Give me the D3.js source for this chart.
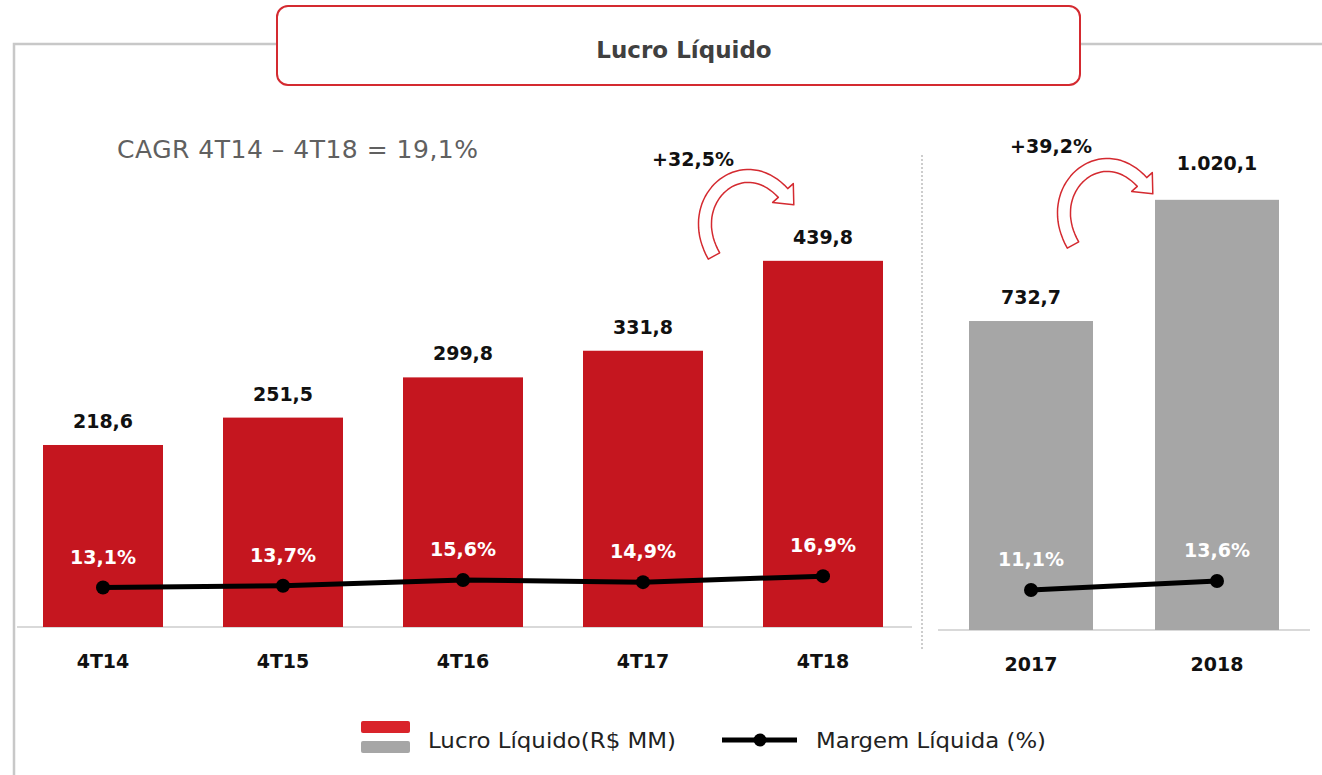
<!DOCTYPE html>
<html>
<head>
<meta charset="utf-8">
<script src="https://cdn.jsdelivr.net/npm/d3@7"></script>
<style>
  body { margin: 0; background: #fff; }
  text { font-family: "DejaVu Sans", sans-serif; }
</style>
</head>
<body>
<script>
// quarterly data
const quarters = ["4T14", "4T15", "4T16", "4T17", "4T18"];
const quarterProfit = [218.6, 251.5, 299.8, 331.8, 439.8];
const quarterMargin = [13.1, 13.7, 15.6, 14.9, 16.9];

// yearly data
const years = ["2017", "2018"];
const yearProfit = [732.7, 1020.1];
const yearMargin = [11.1, 13.6];

const growthLabels = ["+32,5%", "+39,2%"];
const cagrText = "CAGR 4T14 \u2013 4T18 = 19,1%";

const fmt = v => {
  const s = v.toFixed(1).split(".");
  return s[0].replace(/\B(?=(\d{3})+(?!\d))/g, ".") + "," + s[1];
};
const fmtPct = v => v.toFixed(1).replace(".", ",") + "%";

const W = 1322, H = 775;
const red = "#c5161f", grey = "#a6a6a6", frame = "#c8c8c8";

const svg = d3.select("body").append("svg")
  .attr("width", W).attr("height", H);

// frame
svg.append("path")
  .attr("d", "M14,775 L14,44 L277,44 M1080,44 L1322,44")
  .attr("fill", "none").attr("stroke", frame).attr("stroke-width", 2.5);

// title box
svg.append("rect")
  .attr("x", 277).attr("y", 6).attr("width", 803).attr("height", 79)
  .attr("rx", 11)
  .attr("fill", "#fff").attr("stroke", "#d42a30").attr("stroke-width", 2);
svg.append("text")
  .attr("x", 684).attr("y", 58)
  .attr("text-anchor", "middle")
  .attr("font-size", 23).attr("font-weight", "bold")
  .attr("fill", "#404040")
  .text("Lucro Líquido");

svg.append("text")
  .attr("x", 117).attr("y", 158)
  .attr("font-size", 25).attr("fill", "#606060")
  .attr("textLength", 361)
  .text(cagrText);

// separator
svg.append("line")
  .attr("x1", 922).attr("x2", 922).attr("y1", 155).attr("y2", 650)
  .attr("stroke", "#bdbdbd").attr("stroke-width", 1.5)
  .attr("stroke-dasharray", "2,2");

function panel(cfg) {
  const g = svg.append("g");
  const x = d3.scaleBand().domain(cfg.cats).range(cfg.xr)
    .paddingInner(1 / 3).paddingOuter(1 / 6);
  const y = d3.scaleLinear().domain(cfg.yd).range([cfg.base, cfg.ytop]);
  const ym = d3.scaleLinear().domain([0, 20]).range([cfg.base, cfg.mtop]);

  g.append("line")
    .attr("x1", cfg.axis[0]).attr("x2", cfg.axis[1])
    .attr("y1", cfg.base).attr("y2", cfg.base)
    .attr("stroke", "#d9d9d9").attr("stroke-width", 2);

  const data = cfg.cats.map((c, i) => ({ c, v: cfg.vals[i], m: cfg.margins[i] }));

  g.selectAll("rect.bar").data(data).join("rect")
    .attr("class", "bar")
    .attr("x", d => x(d.c)).attr("width", x.bandwidth())
    .attr("y", d => y(d.v)).attr("height", d => cfg.base - y(d.v))
    .attr("fill", cfg.color);

  g.selectAll("text.val").data(data).join("text")
    .attr("class", "val")
    .attr("x", d => x(d.c) + x.bandwidth() / 2)
    .attr("y", (d, i) => y(d.v) - cfg.valGap(i))
    .attr("text-anchor", "middle")
    .attr("font-size", 19).attr("font-weight", "bold").attr("fill", "#111")
    .text(d => fmt(d.v));

  g.selectAll("text.cat").data(data).join("text")
    .attr("class", "cat")
    .attr("x", d => x(d.c) + x.bandwidth() / 2)
    .attr("y", cfg.base + 41)
    .attr("text-anchor", "middle")
    .attr("font-size", 19).attr("font-weight", "bold").attr("fill", "#111")
    .text(d => d.c);

  const line = d3.line()
    .x(d => x(d.c) + x.bandwidth() / 2)
    .y(d => ym(d.m));
  g.append("path").datum(data)
    .attr("d", line)
    .attr("fill", "none").attr("stroke", "#000").attr("stroke-width", 5);
  g.selectAll("circle").data(data).join("circle")
    .attr("cx", d => x(d.c) + x.bandwidth() / 2)
    .attr("cy", d => ym(d.m))
    .attr("r", 7).attr("fill", "#000");

  g.selectAll("text.pct").data(data).join("text")
    .attr("class", "pct")
    .attr("x", d => x(d.c) + x.bandwidth() / 2)
    .attr("y", d => ym(d.m) - 24)
    .attr("text-anchor", "middle")
    .attr("font-size", 19).attr("font-weight", "bold").attr("fill", "#fff")
    .text(d => fmtPct(d.m));
  return { x, y };
}

panel({
  cats: quarters, vals: quarterProfit, margins: quarterMargin,
  xr: [13, 913], yd: [0, 500], base: 627, ytop: 627 - 500 * 0.8326,
  mtop: 630 - 20 * 3.16, axis: [17, 912], color: red,
  valGap: () => 17
});
panel({
  cats: years, vals: yearProfit, margins: yearMargin,
  xr: [938, 1310], yd: [0, 1100], base: 630, ytop: 630 - 1100 * 0.4217,
  mtop: 630 - 20 * 3.6, axis: [938, 1310], color: grey,
  valGap: i => (i === 1 ? 30 : 17)
});

// curved growth arrows
function arrowPath(p0, p1, p2, p3, hw, bw, tl) {
  const bz = t => {
    const u = 1 - t;
    return [
      u * u * u * p0[0] + 3 * u * u * t * p1[0] + 3 * u * t * t * p2[0] + t * t * t * p3[0],
      u * u * u * p0[1] + 3 * u * u * t * p1[1] + 3 * u * t * t * p2[1] + t * t * t * p3[1]
    ];
  };
  const n = 40, L = [], R = [];
  for (let i = 0; i <= n; i++) {
    const t = i / n;
    const a = bz(Math.max(0, t - 0.01)), b = bz(Math.min(1, t + 0.01));
    let dx = b[0] - a[0], dy = b[1] - a[1];
    const len = Math.hypot(dx, dy); dx /= len; dy /= len;
    const p = bz(t);
    L.push([p[0] - dy * hw, p[1] + dx * hw]);
    R.push([p[0] + dy * hw, p[1] - dx * hw]);
  }
  let dx = p3[0] - p2[0], dy = p3[1] - p2[1];
  const len = Math.hypot(dx, dy); dx /= len; dy /= len;
  const e = p3;
  const head = [
    [e[0] - dy * bw, e[1] + dx * bw],
    [e[0] + dx * tl, e[1] + dy * tl],
    [e[0] + dy * bw, e[1] - dx * bw]
  ];
  const pts = L.concat(head, R.reverse());
  return "M" + pts.map(p => p[0].toFixed(1) + "," + p[1].toFixed(1)).join("L") + "Z";
}

const arrowOffsets = [[0, 0], [359, -11]];
const labelPos = [[693, 166], [1051, 153]];
arrowOffsets.forEach((o, i) => {
  const g = svg.append("g").attr("transform", `translate(${o[0]},${o[1]})`);
  g.append("path")
    .attr("d", arrowPath([714, 256], [682, 200], [742, 148], [783, 193], 6.5, 14, 16))
    .attr("fill", "#fff").attr("stroke", "#d42a30").attr("stroke-width", 1.5)
    .attr("stroke-linejoin", "round");
  svg.append("text")
    .attr("x", labelPos[i][0]).attr("y", labelPos[i][1])
    .attr("text-anchor", "middle")
    .attr("font-size", 19).attr("font-weight", "bold").attr("fill", "#111")
    .text(growthLabels[i]);
});

// legend
const lg = svg.append("g");
lg.append("rect").attr("x", 361).attr("y", 721).attr("width", 49).attr("height", 12)
  .attr("rx", 2).attr("fill", "#d9232a");
lg.append("rect").attr("x", 361).attr("y", 741).attr("width", 49).attr("height", 12)
  .attr("rx", 2).attr("fill", grey);
lg.append("text").attr("x", 428).attr("y", 748)
  .attr("font-size", 21).attr("fill", "#222")
  .attr("textLength", 248).attr("lengthAdjust", "spacingAndGlyphs")
  .text("Lucro Líquido(R$ MM)");
lg.append("line").attr("x1", 722).attr("x2", 797).attr("y1", 740).attr("y2", 740)
  .attr("stroke", "#000").attr("stroke-width", 5);
lg.append("circle").attr("cx", 760).attr("cy", 740).attr("r", 6.5).attr("fill", "#000");
lg.append("text").attr("x", 816).attr("y", 748)
  .attr("font-size", 21).attr("fill", "#222")
  .attr("textLength", 230).attr("lengthAdjust", "spacingAndGlyphs")
  .text("Margem Líquida (%)");
</script>
</body>
</html>
